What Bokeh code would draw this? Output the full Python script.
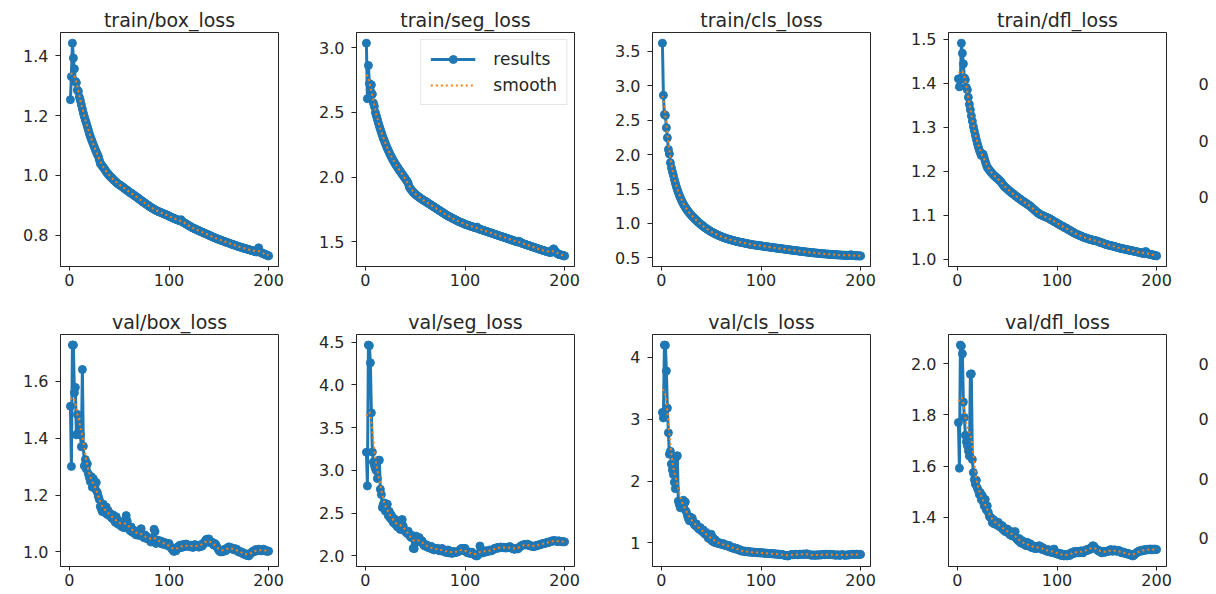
import numpy as np
from bokeh.plotting import figure
from bokeh.layouts import gridplot
from bokeh.models import Range1d, FixedTicker, PrintfTickFormatter, Legend, LegendItem
from bokeh.core.properties import value
from bokeh.embed import file_html
from bokeh.resources import INLINE

epochs = list(range(1, 201))

train_box_loss = [
    1.253, 1.330, 1.442, 1.392, 1.356, 1.314, 1.310, 1.285, 1.281, 1.262,
    1.250, 1.236, 1.222, 1.208, 1.196, 1.185, 1.175, 1.163, 1.152, 1.140,
    1.130, 1.121, 1.112, 1.103, 1.095, 1.086, 1.078, 1.071, 1.064, 1.052,
    1.040, 1.036, 1.031, 1.027, 1.022, 1.018, 1.012, 1.008, 1.004, 1.000,
    0.996, 0.993, 0.990, 0.986, 0.983, 0.980, 0.977, 0.974, 0.971, 0.969,
    0.967, 0.965, 0.962, 0.960, 0.957, 0.955, 0.952, 0.950, 0.948, 0.945,
    0.942, 0.941, 0.938, 0.936, 0.933, 0.931, 0.929, 0.926, 0.924, 0.921,
    0.919, 0.916, 0.914, 0.911, 0.909, 0.907, 0.904, 0.902, 0.900, 0.897,
    0.895, 0.893, 0.891, 0.889, 0.887, 0.885, 0.883, 0.881, 0.880, 0.878,
    0.877, 0.876, 0.874, 0.873, 0.871, 0.870, 0.869, 0.867, 0.866, 0.864,
    0.862, 0.861, 0.859, 0.858, 0.856, 0.855, 0.853, 0.852, 0.851, 0.849,
    0.848, 0.852, 0.846, 0.844, 0.842, 0.840, 0.838, 0.836, 0.834, 0.832,
    0.830, 0.828, 0.826, 0.824, 0.823, 0.821, 0.820, 0.818, 0.817, 0.815,
    0.814, 0.812, 0.811, 0.809, 0.808, 0.806, 0.805, 0.803, 0.802, 0.800,
    0.799, 0.797, 0.796, 0.794, 0.793, 0.791, 0.790, 0.789, 0.787, 0.786,
    0.785, 0.784, 0.782, 0.781, 0.780, 0.779, 0.777, 0.776, 0.775, 0.774,
    0.773, 0.771, 0.770, 0.769, 0.768, 0.767, 0.766, 0.764, 0.763, 0.762,
    0.761, 0.760, 0.759, 0.758, 0.757, 0.756, 0.755, 0.754, 0.753, 0.752,
    0.751, 0.750, 0.749, 0.748, 0.747, 0.746, 0.745, 0.744, 0.752, 0.758,
    0.746, 0.743, 0.741, 0.740, 0.738, 0.737, 0.735, 0.734, 0.733, 0.731,
]

train_seg_loss = [
    3.034, 2.605, 2.862, 2.722, 2.668, 2.712, 2.640, 2.572, 2.545, 2.498,
    2.472, 2.445, 2.418, 2.392, 2.368, 2.345, 2.322, 2.300, 2.280, 2.260,
    2.241, 2.222, 2.205, 2.188, 2.172, 2.157, 2.142, 2.128, 2.115, 2.102,
    2.090, 2.078, 2.066, 2.055, 2.044, 2.033, 2.022, 2.011, 2.000, 1.989,
    1.978, 1.966, 1.952, 1.925, 1.912, 1.902, 1.893, 1.884, 1.876, 1.868,
    1.862, 1.856, 1.850, 1.844, 1.838, 1.833, 1.828, 1.823, 1.818, 1.814,
    1.809, 1.804, 1.799, 1.794, 1.789, 1.784, 1.779, 1.774, 1.769, 1.764,
    1.759, 1.754, 1.749, 1.744, 1.739, 1.734, 1.729, 1.724, 1.719, 1.714,
    1.709, 1.704, 1.700, 1.696, 1.692, 1.688, 1.684, 1.680, 1.676, 1.672,
    1.668, 1.664, 1.660, 1.656, 1.653, 1.650, 1.647, 1.644, 1.640, 1.636,
    1.633, 1.631, 1.628, 1.626, 1.623, 1.620, 1.618, 1.615, 1.613, 1.610,
    1.608, 1.614, 1.603, 1.600, 1.597, 1.595, 1.592, 1.590, 1.587, 1.585,
    1.582, 1.580, 1.577, 1.574, 1.572, 1.569, 1.567, 1.564, 1.561, 1.559,
    1.556, 1.553, 1.551, 1.548, 1.546, 1.543, 1.540, 1.538, 1.536, 1.533,
    1.530, 1.528, 1.525, 1.522, 1.520, 1.517, 1.514, 1.512, 1.509, 1.507,
    1.504, 1.501, 1.499, 1.505, 1.501, 1.493, 1.490, 1.488, 1.485, 1.482,
    1.479, 1.477, 1.474, 1.472, 1.469, 1.466, 1.464, 1.461, 1.458, 1.456,
    1.453, 1.451, 1.448, 1.445, 1.443, 1.440, 1.438, 1.435, 1.433, 1.431,
    1.428, 1.426, 1.424, 1.421, 1.419, 1.417, 1.425, 1.438, 1.446, 1.434,
    1.422, 1.414, 1.409, 1.405, 1.402, 1.400, 1.398, 1.396, 1.394, 1.392,
]

train_cls_loss = [
    3.620, 2.862, 2.583, 2.570, 2.390, 2.245, 2.075, 2.010, 1.883, 1.810,
    1.752, 1.700, 1.640, 1.585, 1.535, 1.490, 1.448, 1.410, 1.375, 1.342,
    1.312, 1.284, 1.258, 1.234, 1.212, 1.192, 1.172, 1.154, 1.137, 1.120,
    1.105, 1.090, 1.075, 1.060, 1.046, 1.032, 1.019, 1.006, 0.994, 0.982,
    0.970, 0.959, 0.948, 0.937, 0.927, 0.917, 0.907, 0.898, 0.889, 0.880,
    0.872, 0.864, 0.856, 0.849, 0.842, 0.835, 0.828, 0.822, 0.816, 0.810,
    0.804, 0.798, 0.793, 0.788, 0.783, 0.778, 0.773, 0.769, 0.765, 0.761,
    0.757, 0.753, 0.749, 0.745, 0.741, 0.737, 0.734, 0.731, 0.728, 0.725,
    0.722, 0.719, 0.716, 0.713, 0.710, 0.707, 0.704, 0.701, 0.698, 0.695,
    0.692, 0.690, 0.688, 0.686, 0.684, 0.682, 0.680, 0.678, 0.676, 0.674,
    0.672, 0.670, 0.667, 0.665, 0.663, 0.661, 0.659, 0.657, 0.655, 0.653,
    0.651, 0.649, 0.647, 0.645, 0.643, 0.641, 0.639, 0.637, 0.636, 0.634,
    0.632, 0.630, 0.628, 0.626, 0.624, 0.622, 0.620, 0.618, 0.616, 0.614,
    0.612, 0.610, 0.608, 0.606, 0.605, 0.603, 0.601, 0.599, 0.597, 0.595,
    0.593, 0.591, 0.590, 0.588, 0.586, 0.584, 0.583, 0.581, 0.579, 0.578,
    0.576, 0.575, 0.573, 0.572, 0.570, 0.569, 0.567, 0.566, 0.564, 0.563,
    0.562, 0.560, 0.559, 0.558, 0.556, 0.555, 0.554, 0.553, 0.552, 0.551,
    0.550, 0.549, 0.548, 0.547, 0.546, 0.545, 0.544, 0.543, 0.542, 0.541,
    0.540, 0.539, 0.539, 0.538, 0.537, 0.536, 0.536, 0.535, 0.534, 0.546,
    0.540, 0.535, 0.533, 0.532, 0.531, 0.531, 0.530, 0.530, 0.529, 0.529,
]

train_dfl_loss = [
    1.410, 1.392, 1.410, 1.491, 1.468, 1.444, 1.412, 1.408, 1.390, 1.385,
    1.368, 1.352, 1.340, 1.326, 1.314, 1.302, 1.292, 1.282, 1.272, 1.263,
    1.255, 1.248, 1.242, 1.236, 1.240, 1.238, 1.230, 1.222, 1.215, 1.209,
    1.206, 1.203, 1.200, 1.197, 1.195, 1.192, 1.190, 1.188, 1.186, 1.184,
    1.182, 1.180, 1.178, 1.175, 1.172, 1.169, 1.166, 1.164, 1.162, 1.160,
    1.158, 1.156, 1.154, 1.152, 1.150, 1.149, 1.147, 1.145, 1.143, 1.142,
    1.140, 1.138, 1.137, 1.135, 1.133, 1.132, 1.130, 1.129, 1.127, 1.126,
    1.124, 1.123, 1.121, 1.119, 1.117, 1.115, 1.113, 1.111, 1.109, 1.107,
    1.105, 1.104, 1.102, 1.101, 1.100, 1.099, 1.098, 1.097, 1.096, 1.095,
    1.094, 1.093, 1.092, 1.090, 1.089, 1.088, 1.086, 1.085, 1.084, 1.082,
    1.081, 1.080, 1.078, 1.077, 1.076, 1.075, 1.073, 1.072, 1.071, 1.070,
    1.068, 1.067, 1.066, 1.064, 1.063, 1.062, 1.060, 1.059, 1.058, 1.057,
    1.056, 1.055, 1.054, 1.053, 1.052, 1.051, 1.050, 1.049, 1.049, 1.048,
    1.047, 1.046, 1.046, 1.045, 1.044, 1.044, 1.043, 1.043, 1.042, 1.042,
    1.041, 1.040, 1.039, 1.038, 1.038, 1.037, 1.036, 1.035, 1.034, 1.034,
    1.033, 1.032, 1.032, 1.031, 1.031, 1.030, 1.030, 1.029, 1.028, 1.028,
    1.027, 1.026, 1.026, 1.025, 1.025, 1.024, 1.024, 1.023, 1.023, 1.022,
    1.022, 1.021, 1.021, 1.020, 1.020, 1.019, 1.019, 1.018, 1.018, 1.017,
    1.017, 1.016, 1.016, 1.015, 1.015, 1.014, 1.014, 1.013, 1.018, 1.015,
    1.013, 1.012, 1.012, 1.011, 1.011, 1.010, 1.010, 1.009, 1.009, 1.008,
]

val_box_loss = [
    1.513, 1.301, 1.728, 1.728, 1.560, 1.579, 1.412, 1.484, 1.420, 1.452,
    1.412, 1.370, 1.642, 1.372, 1.303, 1.325, 1.292, 1.310, 1.275, 1.262,
    1.248, 1.265, 1.228, 1.258, 1.235, 1.222, 1.244, 1.210, 1.196, 1.185,
    1.160, 1.152, 1.142, 1.168, 1.150, 1.138, 1.158, 1.132, 1.145, 1.128,
    1.135, 1.122, 1.118, 1.130, 1.112, 1.105, 1.124, 1.100, 1.110, 1.096,
    1.105, 1.092, 1.088, 1.100, 1.085, 1.112, 1.128, 1.110, 1.090, 1.080,
    1.075, 1.088, 1.070, 1.078, 1.066, 1.072, 1.060, 1.070, 1.065, 1.058,
    1.068, 1.082, 1.062, 1.055, 1.050, 1.060, 1.048, 1.052, 1.045, 1.050,
    1.040, 1.035, 1.048, 1.038, 1.080, 1.072, 1.030, 1.042, 1.036, 1.040,
    1.032, 1.038, 1.028, 1.035, 1.030, 1.025, 1.032, 1.028, 1.022, 1.030,
    1.020, 1.015, 1.010, 1.005, 1.002, 1.008, 1.004, 1.012, 1.018, 1.020,
    1.024, 1.015, 1.020, 1.026, 1.018, 1.022, 1.028, 1.020, 1.025, 1.023,
    1.018, 1.024, 1.020, 1.016, 1.022, 1.026, 1.019, 1.023, 1.021, 1.017,
    1.022, 1.025, 1.020, 1.030, 1.028, 1.036, 1.042, 1.045, 1.040, 1.046,
    1.038, 1.032, 1.035, 1.028, 1.024, 1.030, 1.026, 1.018, 1.012, 1.006,
    1.002, 1.000, 1.004, 1.001, 1.006, 1.010, 1.004, 1.012, 1.015, 1.018,
    1.014, 1.016, 1.012, 1.010, 1.008, 1.012, 1.006, 1.010, 1.004, 1.000,
    1.002, 0.998, 1.000, 0.996, 0.992, 0.995, 0.990, 0.988, 0.992, 0.986,
    0.990, 0.995, 0.998, 1.002, 1.000, 1.005, 1.008, 1.004, 1.006, 1.010,
    1.005, 1.008, 1.004, 1.007, 1.010, 1.006, 1.003, 1.005, 1.002, 1.003,
]

val_seg_loss = [
    3.212, 2.819, 4.465, 4.458, 4.258, 3.673, 3.215, 3.098, 3.058, 3.020,
    2.995, 2.905, 3.116, 3.120, 2.780, 2.718, 2.566, 2.602, 2.620, 2.525,
    2.560, 2.605, 2.470, 2.520, 2.442, 2.480, 2.415, 2.390, 2.435, 2.372,
    2.366, 2.340, 2.385, 2.330, 2.310, 2.420, 2.425, 2.350, 2.300, 2.290,
    2.275, 2.262, 2.289, 2.250, 2.228, 2.215, 2.240, 2.090, 2.085, 2.150,
    2.231, 2.205, 2.180, 2.215, 2.190, 2.160, 2.175, 2.140, 2.120, 2.135,
    2.110, 2.125, 2.098, 2.105, 2.090, 2.112, 2.080, 2.095, 2.070, 2.085,
    2.075, 2.090, 2.066, 2.080, 2.060, 2.066, 2.088, 2.072, 2.050, 2.062,
    2.040, 2.055, 2.070, 2.035, 2.048, 2.042, 2.030, 2.052, 2.045, 2.038,
    2.050, 2.044, 2.050, 2.060, 2.072, 2.085, 2.089, 2.070, 2.060, 2.089,
    2.055, 2.040, 2.035, 2.048, 2.030, 2.040, 2.044, 2.025, 2.018, 2.010,
    2.002, 2.000, 2.015, 2.025, 2.116, 2.080, 2.050, 2.035, 2.045, 2.052,
    2.060, 2.048, 2.056, 2.062, 2.070, 2.058, 2.064, 2.072, 2.080, 2.090,
    2.085, 2.095, 2.100, 2.092, 2.098, 2.105, 2.100, 2.095, 2.102, 2.098,
    2.092, 2.100, 2.096, 2.102, 2.110, 2.098, 2.090, 2.085, 2.080, 2.078,
    2.085, 2.090, 2.082, 2.095, 2.105, 2.115, 2.122, 2.128, 2.130, 2.135,
    2.128, 2.132, 2.138, 2.126, 2.120, 2.115, 2.118, 2.112, 2.108, 2.115,
    2.120, 2.118, 2.125, 2.130, 2.128, 2.135, 2.140, 2.145, 2.142, 2.150,
    2.148, 2.155, 2.160, 2.158, 2.162, 2.170, 2.175, 2.172, 2.180, 2.178,
    2.175, 2.172, 2.170, 2.176, 2.174, 2.170, 2.168, 2.166, 2.165, 2.165,
]

val_cls_loss = [
    3.108, 3.018, 4.195, 4.190, 3.777, 3.177, 2.779, 2.433, 2.480, 2.274,
    2.180, 2.105, 1.980, 1.876, 2.390, 2.408, 1.675, 1.620, 1.568, 1.600,
    1.650, 1.690, 1.550, 1.660, 1.505, 1.450, 1.399, 1.360, 1.420, 1.350,
    1.400, 1.330, 1.300, 1.280, 1.310, 1.260, 1.239, 1.220, 1.250, 1.200,
    1.185, 1.210, 1.160, 1.140, 1.170, 1.120, 1.080, 1.100, 1.060, 1.140,
    1.030, 1.080, 1.010, 1.050, 1.000, 1.020, 0.995, 0.985, 1.000, 0.980,
    0.975, 0.990, 0.965, 0.960, 0.970, 0.955, 0.945, 0.960, 0.935, 0.925,
    0.920, 0.915, 0.925, 0.905, 0.900, 0.910, 0.895, 0.885, 0.890, 0.868,
    0.875, 0.868, 0.862, 0.870, 0.858, 0.864, 0.857, 0.852, 0.860, 0.850,
    0.848, 0.855, 0.845, 0.850, 0.842, 0.846, 0.840, 0.848, 0.838, 0.841,
    0.836, 0.842, 0.834, 0.838, 0.830, 0.835, 0.828, 0.832, 0.826, 0.830,
    0.824, 0.828, 0.820, 0.826, 0.818, 0.822, 0.815, 0.820, 0.816, 0.815,
    0.812, 0.808, 0.805, 0.800, 0.795, 0.792, 0.790, 0.798, 0.805, 0.810,
    0.812, 0.808, 0.815, 0.810, 0.818, 0.812, 0.808, 0.815, 0.820, 0.816,
    0.812, 0.818, 0.822, 0.815, 0.820, 0.825, 0.818, 0.812, 0.808, 0.805,
    0.802, 0.806, 0.805, 0.800, 0.804, 0.808, 0.802, 0.806, 0.810, 0.805,
    0.808, 0.812, 0.815, 0.810, 0.818, 0.815, 0.812, 0.816, 0.814, 0.815,
    0.812, 0.808, 0.810, 0.806, 0.802, 0.805, 0.808, 0.804, 0.800, 0.805,
    0.808, 0.810, 0.806, 0.802, 0.800, 0.805, 0.808, 0.804, 0.810, 0.812,
    0.815, 0.818, 0.812, 0.816, 0.814, 0.818, 0.815, 0.812, 0.816, 0.815,
]

val_dfl_loss = [
    1.770, 1.592, 2.072, 2.068, 2.038, 1.850, 1.790, 1.720, 1.695, 1.680,
    1.660, 1.640, 1.958, 1.960, 1.626, 1.575, 1.548, 1.530, 1.545, 1.515,
    1.505, 1.490, 1.497, 1.470, 1.485, 1.460, 1.445, 1.470, 1.430, 1.445,
    1.420, 1.405, 1.400, 1.398, 1.380, 1.392, 1.375, 1.385, 1.378, 1.370,
    1.381, 1.365, 1.372, 1.360, 1.368, 1.352, 1.358, 1.345, 1.350, 1.355,
    1.340, 1.338, 1.332, 1.345, 1.328, 1.335, 1.330, 1.345, 1.320, 1.315,
    1.310, 1.318, 1.305, 1.300, 1.310, 1.298, 1.295, 1.302, 1.290, 1.303,
    1.295, 1.288, 1.298, 1.285, 1.282, 1.290, 1.280, 1.286, 1.278, 1.282,
    1.285, 1.290, 1.288, 1.280, 1.275, 1.282, 1.276, 1.272, 1.270, 1.268,
    1.275, 1.270, 1.265, 1.272, 1.268, 1.262, 1.277, 1.265, 1.260, 1.258,
    1.262, 1.255, 1.260, 1.252, 1.258, 1.255, 1.250, 1.256, 1.252, 1.250,
    1.254, 1.258, 1.252, 1.262, 1.258, 1.265, 1.260, 1.268, 1.262, 1.265,
    1.268, 1.262, 1.265, 1.270, 1.266, 1.262, 1.268, 1.272, 1.270, 1.275,
    1.272, 1.278, 1.275, 1.280, 1.285, 1.290, 1.288, 1.282, 1.278, 1.275,
    1.272, 1.268, 1.270, 1.266, 1.262, 1.265, 1.268, 1.264, 1.266, 1.267,
    1.270, 1.268, 1.272, 1.275, 1.270, 1.268, 1.272, 1.274, 1.270, 1.268,
    1.270, 1.272, 1.268, 1.265, 1.262, 1.266, 1.264, 1.260, 1.262, 1.258,
    1.260, 1.256, 1.258, 1.254, 1.252, 1.250, 1.252, 1.256, 1.260, 1.262,
    1.266, 1.268, 1.270, 1.268, 1.272, 1.270, 1.274, 1.272, 1.275, 1.273,
    1.276, 1.274, 1.275, 1.277, 1.274, 1.276, 1.275, 1.277, 1.276, 1.275,
]

titles = ["train/box_loss", "train/seg_loss", "train/cls_loss", "train/dfl_loss",
          "val/box_loss", "val/seg_loss", "val/cls_loss", "val/dfl_loss"]
series = [train_box_loss, train_seg_loss, train_cls_loss, train_dfl_loss,
          val_box_loss, val_seg_loss, val_cls_loss, val_dfl_loss]
y_ticks = [
    [0.8, 1.0, 1.2, 1.4],
    [1.5, 2.0, 2.5, 3.0],
    [0.5, 1.0, 1.5, 2.0, 2.5, 3.0, 3.5],
    [1.0, 1.1, 1.2, 1.3, 1.4, 1.5],
    [1.0, 1.2, 1.4, 1.6],
    [2.0, 2.5, 3.0, 3.5, 4.0, 4.5],
    [1, 2, 3, 4],
    [1.4, 1.6, 1.8, 2.0],
]
y_formats = ["%.1f", "%.1f", "%.1f", "%.1f", "%.1f", "%.1f", "%d", "%.1f"]
x_ticks = [0, 100, 200]
legend_labels = ["results", "smooth"]
# left edges of the tick labels of the next, cropped-off column
cut_label_text = "0"
cut_label_fracs = [[0.218, 0.462, 0.701], [0.127, 0.364, 0.623, 0.877]]


def gaussian_smooth(y, sigma=3.0):
    y = np.asarray(y, dtype=float)
    r = int(4 * sigma + 0.5)
    k = np.arange(-r, r + 1)
    w = np.exp(-0.5 * (k / sigma) ** 2)
    w /= w.sum()
    yp = np.pad(y, r, mode="symmetric")
    return np.convolve(yp, w, mode="valid")


BLUE = "#1f77b4"
ORANGE = "#ff7f0e"
INK = "#262626"
FONT = "DejaVu Sans"

col_widths = [304, 296, 296, 302]
col_lefts = [60, 52, 52, 52]
CUT_W = 18
row_heights = [306, 288]
row_tops = [32, 24]
frame_heights = [234, 236]
FRAME_W = 218

grid = []
for row in range(2):
    line = []
    for col in range(4):
        i = row * 4 + col
        y = series[i]
        x0, x1 = min(epochs), max(epochs)
        xpad = 0.05 * (x1 - x0)
        y0, y1 = min(y), max(y)
        ypad = 0.05 * (y1 - y0)
        xr = Range1d(x0 - xpad, x1 + xpad)
        yr = Range1d(y0 - ypad, y1 + ypad)
        w = col_widths[col]
        h = row_heights[row]
        lb = col_lefts[col]
        tb = row_tops[row]
        p = figure(width=w, height=h, x_range=xr, y_range=yr,
                   output_backend="svg", toolbar_location=None,
                   min_border_left=lb, min_border_right=w - lb - FRAME_W,
                   min_border_top=tb,
                   min_border_bottom=h - tb - frame_heights[row])
        p.title.text = titles[i]
        p.title.align = "center"
        p.title.text_font = FONT
        p.title.text_font_size = "19px"
        p.title.text_font_style = "normal"
        p.title.text_color = INK
        p.title.standoff = 4
        p.title.offset = 0

        p.xgrid.visible = False
        p.ygrid.visible = False
        p.outline_line_color = INK
        p.outline_line_width = 1
        p.outline_line_alpha = 1.0
        p.background_fill_color = "white"
        p.border_fill_color = "white"

        p.xaxis.ticker = FixedTicker(ticks=x_ticks)
        p.xaxis.formatter = PrintfTickFormatter(format="%d")
        p.yaxis.ticker = FixedTicker(ticks=y_ticks[i])
        p.yaxis.formatter = PrintfTickFormatter(format=y_formats[i])
        for ax in (p.xaxis, p.yaxis):
            ax.minor_tick_line_color = None
            ax.major_tick_in = 0
            ax.axis_line_color = INK
            ax.major_tick_line_color = INK
            ax.major_label_text_font = FONT
            ax.major_label_text_font_size = "16px"
            ax.major_label_text_color = INK
        p.xaxis.major_tick_out = 4
        p.xaxis.major_label_standoff = 3
        p.yaxis.major_tick_out = 5
        p.yaxis.major_label_standoff = 7

        r_line = p.line(epochs, y, line_width=3, color=BLUE)
        r_pts = p.scatter(epochs, y, size=8, color=BLUE)
        r_s = p.line(epochs, gaussian_smooth(y), line_width=2, color=ORANGE,
                     line_dash="2 3")

        if i == 1:
            legend = Legend(items=[
                LegendItem(label=legend_labels[0], renderers=[r_line, r_pts]),
                LegendItem(label=legend_labels[1], renderers=[r_s]),
            ], location="top_right")
            legend.label_text_font = FONT
            legend.label_text_font_size = "17px"
            legend.label_text_color = INK
            legend.glyph_width = 45
            legend.glyph_height = 20
            legend.label_height = 20
            legend.label_standoff = 18
            legend.padding = 9
            legend.spacing = 6
            legend.margin = 7
            legend.border_line_color = "#cccccc"
            legend.border_line_width = 1
            legend.background_fill_alpha = 0.8
            p.add_layout(legend)
        line.append(p)

    # narrow strip showing the cut-off tick labels of the next column
    h = row_heights[row]
    tb = row_tops[row]
    q = figure(width=CUT_W, height=h, x_range=Range1d(0, 1), y_range=Range1d(0, 1),
               output_backend="svg", toolbar_location=None,
               x_axis_location=None, y_axis_location=None,
               min_border_left=0, min_border_right=0, min_border_top=tb,
               min_border_bottom=h - tb - frame_heights[row])
    q.outline_line_color = None
    q.grid.visible = False
    fr = cut_label_fracs[row]
    q.text(x=[0.0] * len(fr), y=[1.0 - f for f in fr], text=[cut_label_text] * len(fr),
           text_align="left", text_baseline="middle", text_font=value(FONT),
           text_font_size="16px", text_color=INK)
    line.append(q)
    grid.append(line)

layout = gridplot(grid, toolbar_location=None)
open("out.html", "w").write(file_html(layout, INLINE))
